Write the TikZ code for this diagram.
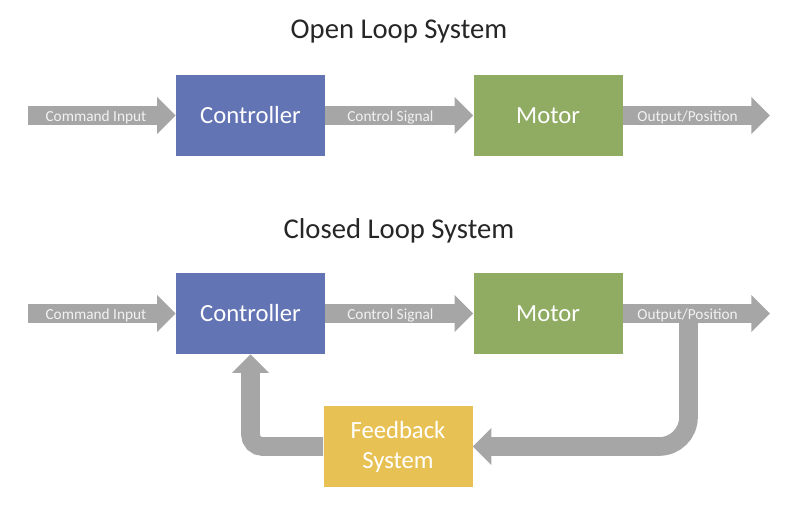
\documentclass[tikz,border=0pt]{standalone}
\usepackage{fontspec}
\setmainfont{Carlito}
\usetikzlibrary{arrows.meta,positioning}
\definecolor{ctrlblue}{HTML}{6374B4}
\definecolor{motorgreen}{HTML}{8FAC62}
\definecolor{fbyellow}{HTML}{E8C154}
\definecolor{flowgray}{HTML}{A6A6A6}
\definecolor{titlegray}{HTML}{262626}

\begin{document}
\begin{tikzpicture}[x=0.75pt,y=-0.75pt,
  node distance=111pt,
  block/.style={minimum width=111.75pt,minimum height=60.75pt,inner sep=0pt,text=white,
    font=\fontsize{18.5}{22.5}\selectfont,align=center},
  flow/.style={-{Triangle[length=14pt,width=27pt]},line width=14pt,draw=flowgray},
  lbl/.style={text=white!95!black,font=\fontsize{11.5}{13}\selectfont,inner sep=0pt,yshift=-1.2pt},
  title/.style={text=titlegray,font=\fontsize{21.5}{25}\selectfont}
]
\fill[white] (0,0) rectangle (800,507);
\useasboundingbox (0,0) rectangle (800,507);
\node[title] (opentitle) at (399,32) {Open Loop System};
\node[block,fill=ctrlblue] (ctrl1) at (250.5,115.5) {Controller};
\node[block,fill=motorgreen,right=of ctrl1] (motor1) {Motor};
\coordinate (in1) at (28,115.5);
\coordinate (out1) at (770,115.5);
\draw[flow] (in1) -- (ctrl1) node[lbl,pos=0.46] {Command Input};
\draw[flow] (ctrl1) -- (motor1) node[lbl,pos=0.44] {Control Signal};
\draw[flow] (motor1) -- (out1) node[lbl,pos=0.44] {Output/Position};

\node[title] (closedtitle) at (399,231) {Closed Loop System};
\node[block,fill=ctrlblue] (ctrl2) at (250.5,313.5) {Controller};
\node[block,fill=motorgreen,right=of ctrl2] (motor2) {Motor};
\node[block,fill=fbyellow] (fb) at (398,446.5) {Feedback\\System};
\coordinate (in2) at (28,313.5);
\coordinate (out2) at (770,313.5);
\coordinate (tap) at (688.5,313.5);
\draw[flow,rounded corners=22pt] (tap) |- (fb);
\draw[flow,rounded corners=9pt] (fb) -| (ctrl2);
\draw[flow] (in2) -- (ctrl2) node[lbl,pos=0.46] {Command Input};
\draw[flow] (ctrl2) -- (motor2) node[lbl,pos=0.44] {Control Signal};
\draw[flow] (motor2) -- (out2) node[lbl,pos=0.44] {Output/Position};
\end{tikzpicture}
\end{document}
